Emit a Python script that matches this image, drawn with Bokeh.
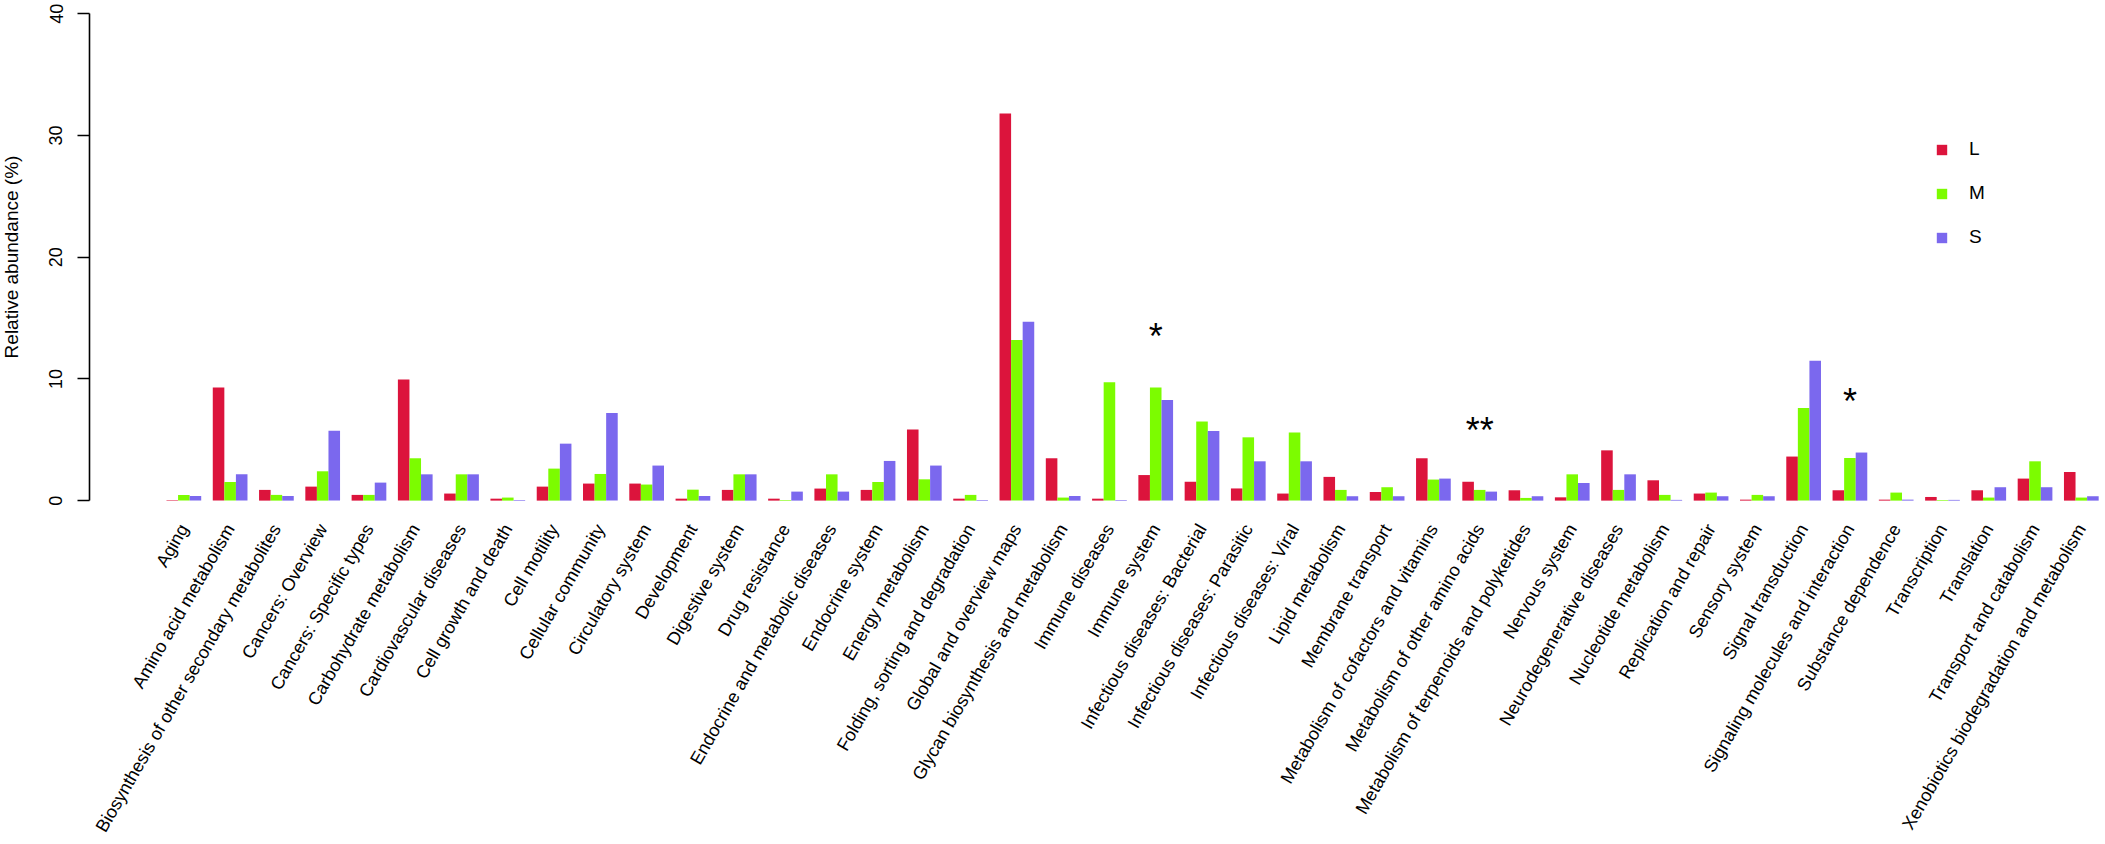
import math
from bokeh.plotting import figure
from bokeh.models import Range1d, FixedTicker, Legend, LegendItem, ColumnDataSource
from bokeh.core.properties import value
from bokeh.embed import file_html
from bokeh.resources import INLINE

categories = [
    "Aging", "Amino acid metabolism", "Biosynthesis of other secondary metabolites",
    "Cancers: Overview", "Cancers: Specific types", "Carbohydrate metabolism",
    "Cardiovascular diseases", "Cell growth and death", "Cell motility",
    "Cellular community", "Circulatory system", "Development", "Digestive system",
    "Drug resistance", "Endocrine and metabolic diseases", "Endocrine system",
    "Energy metabolism", "Folding, sorting and degradation", "Global and overview maps",
    "Glycan biosynthesis and metabolism", "Immune diseases", "Immune system",
    "Infectious diseases: Bacterial", "Infectious diseases: Parasitic",
    "Infectious diseases: Viral", "Lipid metabolism", "Membrane transport",
    "Metabolism of cofactors and vitamins", "Metabolism of other amino acids",
    "Metabolism of terpenoids and polyketides", "Nervous system",
    "Neurodegenerative diseases", "Nucleotide metabolism", "Replication and repair",
    "Sensory system", "Signal transduction", "Signaling molecules and interaction",
    "Substance dependence", "Transcription", "Translation", "Transport and catabolism",
    "Xenobiotics biodegradation and metabolism",
]

L_vals = [0.05, 9.29, 0.88, 1.15, 0.47, 9.95, 0.58, 0.16, 1.15, 1.40, 1.40, 0.16, 0.88,
          0.16, 0.99, 0.88, 5.84, 0.16, 31.8, 3.48, 0.16, 2.10, 1.55, 1.00, 0.58, 1.95,
          0.71, 3.48, 1.55, 0.85, 0.27, 4.13, 1.67, 0.58, 0.08, 3.62, 0.85, 0.08, 0.30,
          0.85, 1.81, 2.35]
M_vals = [0.47, 1.53, 0.47, 2.41, 0.47, 3.48, 2.16, 0.25, 2.63, 2.19, 1.32, 0.90, 2.16,
          0.05, 2.16, 1.53, 1.75, 0.47, 13.2, 0.25, 9.73, 9.30, 6.50, 5.20, 5.60, 0.88,
          1.10, 1.73, 0.88, 0.22, 2.16, 0.88, 0.47, 0.66, 0.47, 7.60, 3.50, 0.66, 0.05,
          0.25, 3.23, 0.25]
S_vals = [0.38, 2.16, 0.38, 5.75, 1.48, 2.16, 2.16, 0.05, 4.68, 7.20, 2.88, 0.38, 2.16,
          0.74, 0.74, 3.26, 2.88, 0.05, 14.7, 0.38, 0.05, 8.27, 5.73, 3.23, 3.23, 0.36,
          0.36, 1.81, 0.74, 0.36, 1.45, 2.16, 0.06, 0.36, 0.36, 11.5, 3.95, 0.08, 0.06,
          1.10, 1.10, 0.36]

series_names = ["L", "M", "S"]
series_colors = ["#DC143C", "#7CFC00", "#7B68EE"]

signif = {
    "Immune system": "*",
    "Metabolism of other amino acids": "**",
    "Signaling molecules and interaction": "*",
}

y_ticks = [0, 10, 20, 30, 40]

FONT = "Liberation Sans"

# R's plot region: x from -5.655 (4% padding), y from 0 to 40.
X_LEFT = -5.655

# The frame covers the whole page; the y axis is pinned at the left edge of
# the R plot region so that the rotated category labels can run to the left.
p = figure(width=2105, height=844, output_backend="svg", toolbar_location=None,
           x_range=Range1d(-13.347, 168.59), y_range=Range1d(-28.255, 41.092),
           min_border_left=0, min_border_right=0, min_border_top=0,
           min_border_bottom=0)
p.outline_line_color = None
p.xgrid.grid_line_color = None
p.ygrid.grid_line_color = None
p.background_fill_color = "white"
p.border_fill_color = "white"
p.xaxis.visible = False

renderers = []
all_series = [L_vals, M_vals, S_vals]
for s, (vals, col) in enumerate(zip(all_series, series_colors)):
    xs = [1 + 4 * g + s + 0.5 for g in range(len(categories))]
    src = ColumnDataSource(dict(x=xs, top=vals))
    r = p.vbar(x="x", top="top", bottom=0, width=1.0, source=src,
               fill_color=col, line_color=None)
    renderers.append(r)

centers = [2.5 + 4 * g for g in range(len(categories))]

# rotated category labels, right end at the group centre (R: text(srt=60, adj=1))
p.text(x=centers, y=[0] * len(centers), text=categories, angle=math.pi / 3,
       text_align="right", text_baseline="middle", y_offset=25,
       text_font=value(FONT), text_font_size="18px", text_color="black")

ya = p.yaxis[0]
ya.fixed_location = X_LEFT
ya.ticker = FixedTicker(ticks=y_ticks)
ya.bounds = (0, 40)
ya.minor_tick_line_color = None
ya.major_tick_in = 0
ya.major_tick_out = 12
ya.major_tick_line_width = 1.6
ya.axis_line_width = 1.6
ya.axis_line_color = "black"
ya.major_tick_line_color = "black"
ya.major_label_orientation = "parallel"
ya.major_label_standoff = 15
ya.major_label_text_font = FONT
ya.major_label_text_font_size = "18px"
ya.major_label_text_color = "black"
ya.axis_label = "Relative abundance (%)"
ya.axis_label_text_font = FONT
ya.axis_label_text_font_size = "19px"
ya.axis_label_text_font_style = "normal"
ya.axis_label_text_color = "black"
ya.axis_label_standoff = 25

# significance marks
sx, sy, st = [], [], []
for i, c in enumerate(categories):
    if c in signif:
        sx.append(centers[i])
        sy.append(max(L_vals[i], M_vals[i], S_vals[i]) + 4.6)
        st.append(signif[c])
p.text(x=sx, y=sy, text=st, text_align="center", text_baseline="alphabetic",
       y_offset=5, text_font=value(FONT), text_font_size="36px", text_color="black")

legend = Legend(items=[LegendItem(label=n, renderers=[r]) for n, r in zip(series_names, renderers)],
                location=(1935, 596), orientation="vertical",
                glyph_width=13, glyph_height=13, label_standoff=21, spacing=22,
                padding=0, margin=0, border_line_color=None, background_fill_alpha=0,
                label_text_font=FONT, label_text_font_size="19px", label_text_color="black")
p.add_layout(legend, "center")

open("out.html", "w").write(file_html(p, INLINE))
